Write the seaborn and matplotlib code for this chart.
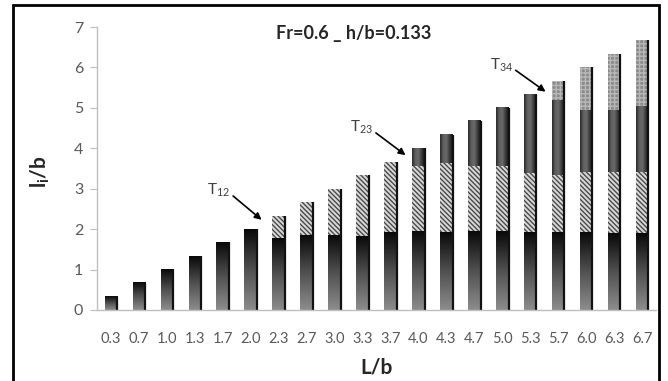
import numpy as np
import matplotlib
matplotlib.use("Agg")
import matplotlib.pyplot as plt
import matplotlib.patches as mpatches
from matplotlib.colors import LinearSegmentedColormap
import seaborn as sns

# L/b categories and cumulative tops of the four stacked segments (T1..T4)
Lb = ["0.3", "0.7", "1.0", "1.3", "1.7", "2.0", "2.3", "2.7", "3.0", "3.3",
      "3.7", "4.0", "4.3", "4.7", "5.0", "5.3", "5.7", "6.0", "6.3", "6.7"]
top1 = [0.33, 0.67, 1.00, 1.33, 1.67, 2.00, 1.77, 1.85, 1.85, 1.81,
        1.91, 1.95, 1.91, 1.95, 1.95, 1.91, 1.91, 1.91, 1.90, 1.90]
top2 = [0.33, 0.67, 1.00, 1.33, 1.67, 2.00, 2.33, 2.67, 3.00, 3.33,
        3.67, 3.57, 3.63, 3.55, 3.55, 3.40, 3.34, 3.42, 3.42, 3.42]
top3 = [0.33, 0.67, 1.00, 1.33, 1.67, 2.00, 2.33, 2.67, 3.00, 3.33,
        3.67, 4.00, 4.33, 4.67, 5.00, 5.33, 5.18, 4.93, 4.95, 5.05]
top4 = [0.33, 0.67, 1.00, 1.33, 1.67, 2.00, 2.33, 2.67, 3.00, 3.33,
        3.67, 4.00, 4.33, 4.67, 5.00, 5.33, 5.67, 6.00, 6.33, 6.67]

# transition labels: (text, text pos, arrow tail, arrow head)
trans = [("12", (3.86, 2.97), (4.37, 2.82), (5.39, 2.23)),
         ("23", (8.98, 4.53), (9.48, 4.38), (10.54, 3.83)),
         ("34", (13.99, 6.06), (14.48, 5.93), (15.55, 5.40))]

sns.set_style("white")
plt.rcParams["font.family"] = ["Lato", "DejaVu Sans"]
plt.rcParams["mathtext.fontset"] = "custom"
plt.rcParams["mathtext.rm"] = "Lato"
plt.rcParams["mathtext.bf"] = "Lato:bold"
plt.rcParams["hatch.linewidth"] = 1.0

fig = plt.figure(figsize=(6.68, 3.81), dpi=100)
ax = fig.add_axes([0.1452, 0.1864, 0.8368, 0.7427])

W = 0.45
layers = []
for tops in [top4, top3, top2, top1]:
    n0 = len(ax.patches)
    sns.barplot(x=Lb, y=tops, color="#888888", width=W, saturation=1,
                errorbar=None, ax=ax, linewidth=0)
    layers.append(ax.patches[n0:])

# T4 segment: fine grey grid
for p in layers[0]:
    p.set_facecolor("#8a8a8a")
    p.set_edgecolor("#b8b8b8")
    p.set_hatch("++++")
    p.set_linewidth(0)

# T3 segment: dark, shaded left to right
cm3 = LinearSegmentedColormap.from_list("c3", ["#2a2a2a", "#5e5e5e", "#6a6a6a", "#3a3a3a", "#111111"])
for p, lo, hi in zip(layers[1], top2, top3):
    p.set_facecolor("#444444")
    if hi - lo > 0.01:
        ax.imshow(np.linspace(0, 1, 64).reshape(1, -1), cmap=cm3, aspect="auto",
                  extent=(p.get_x(), p.get_x() + p.get_width(), lo, hi),
                  origin="lower", zorder=1.5)

# T2 segment: dense diagonal hatching
for p in layers[2]:
    p.set_facecolor("#d8d8d8")
    p.set_edgecolor("#4a4a4a")
    p.set_hatch("\\\\\\\\\\\\\\")
    p.set_linewidth(0)

# T1 segment: vertical gradient black -> grey
cm1 = LinearSegmentedColormap.from_list("c1", ["#8c8c8c", "#505050", "#0a0a0a"])
for p, hi in zip(layers[3], top1):
    ax.imshow(np.linspace(0, 1, 64).reshape(-1, 1), cmap=cm1, aspect="auto",
              extent=(p.get_x(), p.get_x() + p.get_width(), 0, hi),
              origin="lower", zorder=1.6)

# dark shadow on right side of each bar
for p, hi in zip(layers[0], top4):
    ax.vlines(p.get_x() + p.get_width(), 0, hi, color="#111111", lw=1.6, zorder=2)

ax.set_xlim(-0.5, len(Lb) - 0.5)
ax.set_ylim(0, 7)
ax.set_yticks(range(8))
ax.set_xticks(range(len(Lb)))
ax.set_xticklabels(Lb)
ax.set_xticks(np.arange(-0.5, len(Lb)), minor=True)
ax.tick_params(axis="x", which="major", length=0, pad=16, labelsize=10.5, labelcolor="#595959")
ax.tick_params(axis="x", which="minor", length=4, color="#bfbfbf", direction="out")
ax.tick_params(axis="y", length=5, color="#bfbfbf", direction="out", labelsize=11.5,
               labelcolor="#595959", pad=5, left=True)
sns.despine(ax=ax)
for s in ["left", "bottom"]:
    ax.spines[s].set_color("#bfbfbf")
    ax.spines[s].set_linewidth(1)
ax.set_xlabel("")
ax.set_ylabel("")

for sub, tp, tail, head in trans:
    ax.text(tp[0], tp[1], "T$_{" + sub + "}$", ha="center", va="center",
            fontsize=11, color="#404040")
    ax.annotate("", xy=head, xytext=tail,
                arrowprops=dict(arrowstyle="-|>", color="black", lw=1.2,
                                mutation_scale=10, shrinkA=0, shrinkB=0))

fig.text(354 / 668, 1 - 33 / 381, "Fr=0.6 _ h/b=0.133", ha="center", va="center",
         fontsize=13, fontweight="bold")
fig.text(377 / 668, 1 - 368 / 381, "L/b", ha="center", va="center",
         fontsize=15, fontweight="bold")
fig.text(40 / 668, 1 - 172 / 381, r"l$_\mathbf{i}$/b", ha="center", va="center",
         fontsize=15, fontweight="bold", rotation=90)

fig.patches.append(mpatches.Rectangle((13 / 668, -0.02), (659 - 13) / 668, 1 - 5 / 381 + 0.02,
                                      transform=fig.transFigure, fill=False,
                                      edgecolor="black", lw=2))

fig.savefig("out.png", dpi=100)
